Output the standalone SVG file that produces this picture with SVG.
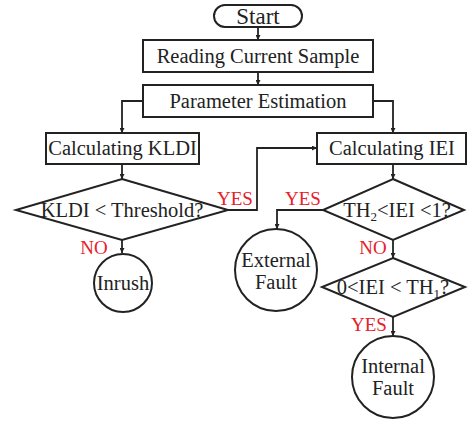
<svg xmlns="http://www.w3.org/2000/svg" width="468" height="421" viewBox="0 0 468 421">
<style>
.s{fill:#fff;stroke:#222;stroke-width:2}
.t{font-family:"Liberation Serif","Times New Roman",serif;font-size:20.5px;fill:#222;text-anchor:middle}
.r{font-family:"Liberation Serif","Times New Roman",serif;font-size:19px;fill:#e8202a;text-anchor:middle}
.c{fill:none;stroke:#222;stroke-width:1.8}
</style>
<defs>
<marker id="a" viewBox="0 0 10 10" refX="10" refY="5" markerWidth="5" markerHeight="5" orient="auto" markerUnits="userSpaceOnUse">
<path d="M0,0L10,5L0,10z" fill="#222"/>
</marker>
</defs>
<rect width="468" height="421" fill="#fff"/>
<g id="connectors">
<path class="c" d="M258,27V40" marker-end="url(#a)"/>
<path class="c" d="M258,72V85" marker-end="url(#a)"/>
<path class="c" d="M143,101H122V133" marker-end="url(#a)"/>
<path class="c" d="M373,101H393V133" marker-end="url(#a)"/>
<path class="c" d="M122,164V179" marker-end="url(#a)"/>
<path class="c" d="M393,164V179" marker-end="url(#a)"/>
<path class="c" d="M228,210H257V148H317" marker-end="url(#a)"/>
<path class="c" d="M122,240V253" marker-end="url(#a)"/>
<path class="c" d="M323,210H277V229" marker-end="url(#a)"/>
<path class="c" d="M393,240V258" marker-end="url(#a)"/>
<path class="c" d="M393,317V336" marker-end="url(#a)"/>
</g>
<g id="start">
<rect class="s" x="214" y="5" width="88" height="22" rx="11"/>
<text class="t" x="258" y="24" style="font-size:23px">Start</text>
</g>
<g id="reading">
<rect class="s" x="143" y="40" width="230" height="32"/>
<text class="t" x="258" y="63">Reading Current Sample</text>
</g>
<g id="param">
<rect class="s" x="143" y="85" width="230" height="32"/>
<text class="t" x="258" y="108">Parameter Estimation</text>
</g>
<g id="kldi">
<rect class="s" x="46" y="133" width="153" height="31"/>
<text class="t" x="122.5" y="155">Calculating KLDI</text>
</g>
<g id="iei">
<rect class="s" x="317" y="133" width="149" height="31"/>
<text class="t" x="392" y="155">Calculating IEI</text>
</g>
<g id="dec1">
<polygon class="s" points="122,179 228,210 122,240 16,210"/>
<text class="t" x="122" y="217">KLDI &lt; Threshold?</text>
</g>
<g id="dec2">
<polygon class="s" points="393,179 464,210 393,240 323,210"/>
<text class="t" x="397" y="217">TH<tspan font-size="13" dy="4">2</tspan><tspan dy="-4">&lt;IEI &lt;1?</tspan></text>
</g>
<g id="dec3">
<polygon class="s" points="393,258 465,287 393,317 322,287"/>
<text class="t" x="393" y="294">0&lt;IEI &lt; TH<tspan font-size="13" dy="4">1</tspan><tspan dy="-4">?</tspan></text>
</g>
<g id="inrush">
<circle class="s" cx="123" cy="283" r="29"/>
<text class="t" x="123" y="290">Inrush</text>
</g>
<g id="external">
<circle class="s" cx="276" cy="270" r="41"/>
<text class="t" x="276" y="267">External</text>
<text class="t" x="276" y="289">Fault</text>
</g>
<g id="internal">
<circle class="s" cx="393" cy="377" r="41"/>
<text class="t" x="393" y="373">Internal</text>
<text class="t" x="393" y="395">Fault</text>
</g>
<g id="labels">
<text class="r" x="235" y="205">YES</text>
<text class="r" x="303" y="205">YES</text>
<text class="r" x="94" y="254">NO</text>
<text class="r" x="373" y="254">NO</text>
<text class="r" x="369" y="331">YES</text>
</g>
</svg>
